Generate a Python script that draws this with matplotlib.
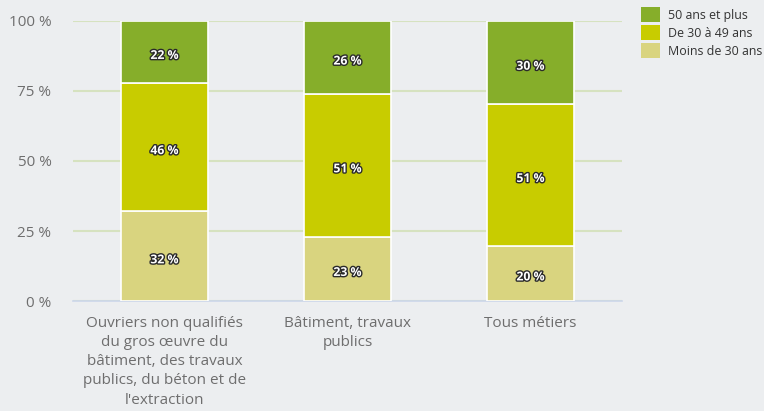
import matplotlib
matplotlib.use("Agg")
import matplotlib.pyplot as plt
import matplotlib.patheffects as pe
from matplotlib.patches import Patch
import numpy as np

plt.rcParams['font.family'] = ['Open Sans', 'DejaVu Sans']

categories = ["Ouvriers non qualifiés\ndu gros œuvre du\nbâtiment, des travaux\npublics, du béton et de\nl'extraction",
              "Bâtiment, travaux\npublics",
              "Tous métiers"]
series_names = ["Moins de 30 ans", "De 30 à 49 ans", "50 ans et plus"]
moins30 = [32, 23, 20]
de30a49 = [46, 51, 51]
plus50 = [22, 26, 30]
colors = ["#d9d47f", "#c8cc00", "#86ae2a"]
yticks = [0, 25, 50, 75, 100]
ytick_labels = ["0 %", "25 %", "50 %", "75 %", "100 %"]

bg = "#eceef0"
fig = plt.figure(figsize=(7.64, 4.11), dpi=100, facecolor=bg)
ax = fig.add_axes([73/764, 1-301/411, (622-73)/764, 280/411], facecolor=bg)

data = np.array([moins30, de30a49, plus50], dtype=float)
totals = data.sum(axis=0)
pct = data / totals * 100
x = np.arange(len(categories))
bottom = np.zeros(len(categories))
for i in range(3):
    ax.bar(x, pct[i], bottom=bottom, width=0.475, color=colors[i],
           edgecolor="white", linewidth=1.2, zorder=3)
    for j in range(len(categories)):
        ax.text(x[j], bottom[j] + pct[i][j]/2 - 1.3, f"{int(data[i][j])} %",
                ha="center", va="center", fontsize=8.8, fontweight="bold",
                color="white", zorder=4,
                path_effects=[pe.withStroke(linewidth=2, foreground="#2a2a2a")])
    bottom += pct[i]

ax.set_xlim(-0.5, 2.5)
ax.set_ylim(0, 100)
ax.set_yticks(yticks)
ax.set_yticklabels(ytick_labels)
ax.set_xticks(x)
ax.set_xticklabels(categories, linespacing=1.37)
ax.tick_params(axis='both', length=0, colors="#6e6e6e", labelsize=11)
ax.tick_params(axis='x', pad=11)
ax.tick_params(axis='y', pad=15.5)
ax.grid(axis='y', color="#d6e2c0", linewidth=1.5, zorder=0)
for s in ["top", "right", "left"]:
    ax.spines[s].set_visible(False)
ax.spines["bottom"].set_color("#ccd6eb")
ax.spines["bottom"].set_linewidth(1.2)

handles = [Patch(facecolor=colors[2], label=series_names[2]),
           Patch(facecolor=colors[1], label=series_names[1]),
           Patch(facecolor=colors[0], label=series_names[0])]
fig.legend(handles=handles, loc="upper left", bbox_to_anchor=(636/764, 1-2/411),
           frameon=False, fontsize=8.9, handlelength=1.55, handleheight=1.55,
           handletextpad=0.6, labelspacing=0.2, borderaxespad=0, labelcolor="#333333")

fig.savefig("out.png", dpi=100, facecolor=bg)
